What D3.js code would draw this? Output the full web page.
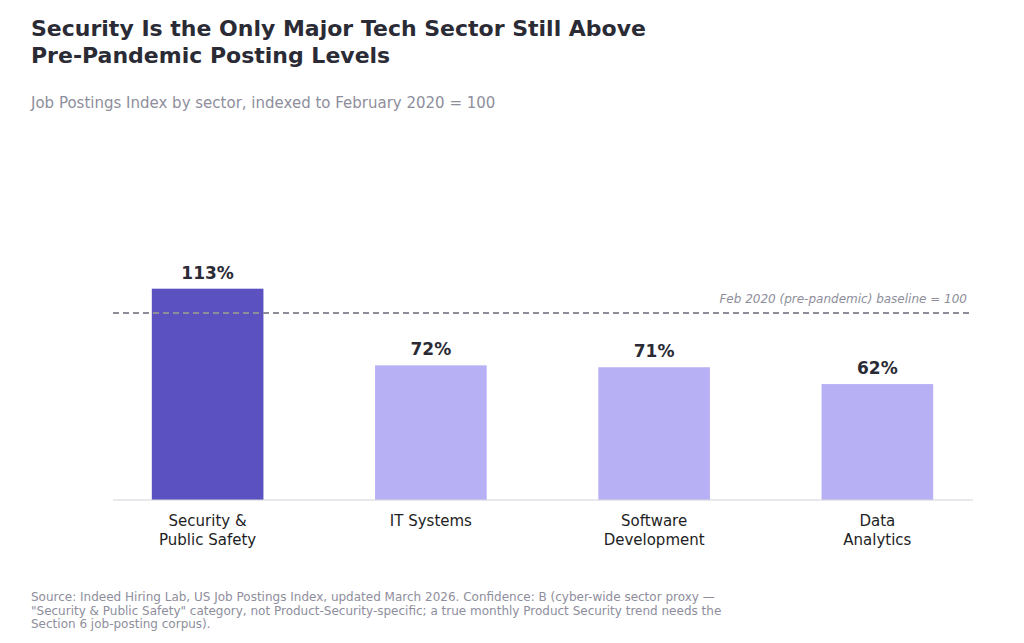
<!DOCTYPE html>
<html><head><meta charset="utf-8">
<script src="https://cdn.jsdelivr.net/npm/d3@7"></script>
<style>body{margin:0;background:#fff;font-family:"DejaVu Sans",sans-serif;}</style>
</head><body><div id="chart"></div>
<script>
var categories = [["Security &", "Public Safety"], ["IT Systems"], ["Software", "Development"], ["Data", "Analytics"]];
var values = [113, 72, 71, 62];
var colors = ["#5b51c1", "#b8b0f5", "#b8b0f5", "#b8b0f5"];
var baseline = 100;

var W = 1024, H = 643;
var svg = d3.select("#chart").append("svg").attr("width", W).attr("height", H);

var x = d3.scaleBand().domain(d3.range(values.length)).range([96, 989])
    .paddingInner(0.5).paddingOuter(0.25);
var y = d3.scaleLinear().domain([0, 125]).range([500, 266.25]);

svg.append("text").attr("x", 31).attr("y", 36).attr("font-size", 22).attr("font-weight", "bold")
    .attr("fill", "#2b2b36").text("Security Is the Only Major Tech Sector Still Above");
svg.append("text").attr("x", 31).attr("y", 63).attr("font-size", 22).attr("font-weight", "bold")
    .attr("fill", "#2b2b36").text("Pre-Pandemic Posting Levels");
svg.append("text").attr("x", 31).attr("y", 108).attr("font-size", 15)
    .attr("fill", "#8e8e9c").text("Job Postings Index by sector, indexed to February 2020 = 100");

svg.selectAll("rect.bar").data(values).enter().append("rect").attr("class", "bar")
    .attr("x", function(d, i){ return x(i); })
    .attr("width", x.bandwidth())
    .attr("y", function(d){ return y(d); })
    .attr("height", function(d){ return y(0) - y(d); })
    .attr("fill", function(d, i){ return colors[i]; });

svg.selectAll("text.val").data(values).enter().append("text").attr("class", "val")
    .attr("x", function(d, i){ return x(i) + x.bandwidth()/2; })
    .attr("y", function(d){ return y(d) - 10; })
    .attr("text-anchor", "middle").attr("font-size", 17).attr("font-weight", "bold")
    .attr("fill", "#2b2b36").text(function(d){ return d + "%"; });

// baseline
svg.append("line").attr("x1", 113).attr("x2", 973).attr("y1", y(baseline)).attr("y2", y(baseline))
    .attr("stroke", "#8e8e98").attr("stroke-width", 1.8).attr("stroke-dasharray", "6,4");
svg.append("text").attr("x", 967).attr("y", y(baseline) - 10).attr("text-anchor", "end")
    .attr("font-size", 12).attr("font-style", "italic").attr("fill", "#8e8e9c")
    .text("Feb 2020 (pre-pandemic) baseline = 100");

// x axis
svg.append("line").attr("x1", 113).attr("x2", 973).attr("y1", y(0)).attr("y2", y(0))
    .attr("stroke", "#d4d4dc").attr("stroke-width", 1.2);
var cat = svg.selectAll("text.cat").data(categories).enter().append("text").attr("class", "cat")
    .attr("text-anchor", "middle").attr("font-size", 15).attr("fill", "#1e1e24");
cat.each(function(d, i){
    var t = d3.select(this);
    d.forEach(function(line, j){
        t.append("tspan").attr("x", x(i) + x.bandwidth()/2).attr("y", 526 + j*19).text(line);
    });
});

var footer = ["Source: Indeed Hiring Lab, US Job Postings Index, updated March 2026. Confidence: B (cyber-wide sector proxy \u2014",
    "\"Security & Public Safety\" category, not Product-Security-specific; a true monthly Product Security trend needs the",
    "Section 6 job-posting corpus)."];
svg.selectAll("text.foot").data(footer).enter().append("text").attr("class", "foot")
    .attr("x", 31).attr("y", function(d, i){ return 601 + i*13.5; })
    .attr("font-size", 12).attr("fill", "#8e8e9c").text(function(d){ return d; });
</script></body></html>
